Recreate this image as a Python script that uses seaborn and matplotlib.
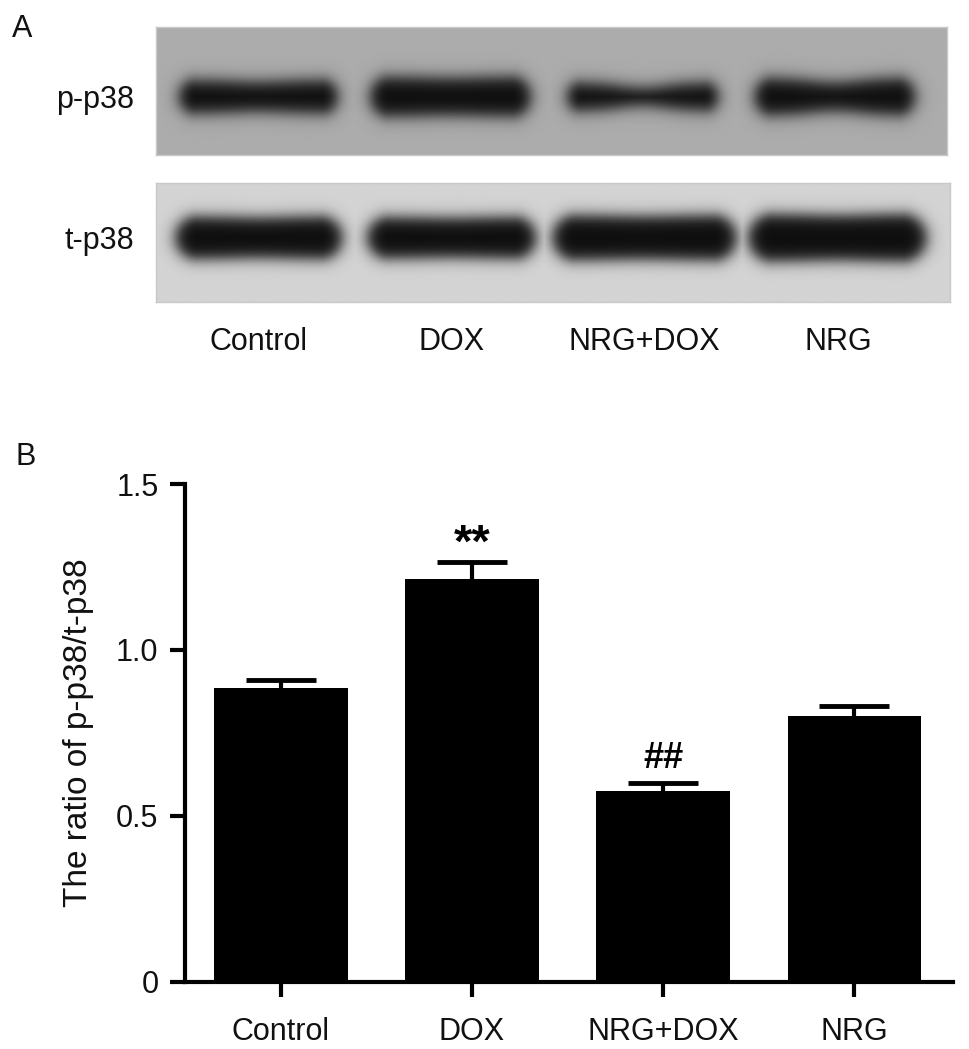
import numpy as np
import pandas as pd
import matplotlib
matplotlib.use("Agg")
import matplotlib.pyplot as plt
import seaborn as sns

groups = ["Control", "DOX", "NRG+DOX", "NRG"]
ratio_mean = [0.885, 1.213, 0.574, 0.800]
ratio_sem = [0.026, 0.051, 0.024, 0.030]
significance = ["", "**", "##", ""]

# western blot rows and band appearance per lane
blot_rows = ["p-p38", "t-p38"]
p38_band_width = [0.82, 0.83, 0.78, 0.83]
p38_band_height = [0.26, 0.31, 0.22, 0.29]
p38_band_waist = [0.10, 0.05, 0.35, 0.22]
t38_band_width = [0.86, 0.87, 0.95, 0.92]
t38_band_height = [0.36, 0.35, 0.38, 0.40]
t38_band_waist = [0.05, 0.04, 0.04, 0.05]

sns.set_style("ticks")
plt.rcParams["font.family"] = ["Liberation Sans", "DejaVu Sans"]
for key in ["text.color", "axes.labelcolor", "xtick.color", "ytick.color", "axes.edgecolor"]:
    plt.rcParams[key] = "#111111"

BLACK = "#000000"
FS = 22


def blot_image(widths, heights, waists, center_y, bg):
    # build a grey-level picture of one blot strip, bands centred on lanes 0..3
    xs = np.linspace(-0.53, 3.58, 600)
    ys = np.linspace(-1, 1, 140)
    X, Y = np.meshgrid(xs, ys)
    px_x, px_y = 192.5, 62.0
    dark = np.zeros_like(X)
    for lane, (w, h, wa) in enumerate(zip(widths, heights, waists)):
        dx = (X - lane) * px_x
        dy = (Y - center_y) * px_y
        hw = w / 2 * px_x
        hh = h * px_y
        hh_eff = hh * (1 - wa * np.exp(-((X - lane) / (w * 0.22)) ** 2))
        seg = np.clip(np.abs(dx) - (hw - hh), 0, None)
        d = np.sqrt(seg ** 2 + dy ** 2) - hh_eff
        dark = np.maximum(dark, 1 / (1 + np.exp(d / 4.5)))
    return bg - (bg - 14) * dark


fig = plt.figure(figsize=(9.69, 10.49), dpi=100)

# ---- panel A: blots
ax_p = fig.add_axes([0.161, 0.8522, 0.8163, 0.1220])
ax_t = fig.add_axes([0.161, 0.7121, 0.8194, 0.1134])

img_p = blot_image(p38_band_width, p38_band_height, p38_band_waist, -0.09, 172)
img_t = blot_image(t38_band_width, t38_band_height, t38_band_waist, 0.08, 212)

for ax, img, label, cy in [(ax_p, img_p, blot_rows[0], -0.09), (ax_t, img_t, blot_rows[1], 0.08)]:
    ax.imshow(img, cmap="gray", vmin=0, vmax=255, aspect="auto",
              extent=[-0.53, 3.58, -1, 1], origin="lower", interpolation="bilinear")
    for s in ax.spines.values():
        s.set_color("#c8c8c8")
        s.set_linewidth(1)
    ax.set_yticks([cy])
    ax.set_yticklabels([label], fontsize=FS)
    ax.tick_params(axis="y", length=0, pad=16)
    ax.set_xticks([])

ax_t.set_xticks(range(len(groups)))
ax_t.set_xticklabels(groups, fontsize=FS)
ax_t.tick_params(axis="x", length=0, pad=18)

# ---- panel B: bar chart
ax = fig.add_axes([0.1909, 0.0639, 0.7926, 0.4747])
df = pd.DataFrame({"group": groups, "ratio": ratio_mean, "sem": ratio_sem})
sns.barplot(data=df, x="group", y="ratio", color=BLACK, saturation=1,
            width=0.7, errorbar=None, linewidth=0, edgecolor=BLACK, ax=ax)
eb = ax.errorbar(range(len(groups)), df["ratio"], yerr=[np.zeros(len(groups)), df["sem"]],
                 fmt="none", ecolor=BLACK, elinewidth=3, capsize=25, capthick=3.5)
# only the upper cap is wanted (mean + SEM)
eb[1][0].set_visible(False)

for i, (m, e, s) in enumerate(zip(ratio_mean, ratio_sem, significance)):
    if s == "**":
        ax.annotate(s, (i, m + e), xytext=(0, 4), textcoords="offset points",
                    ha="center", va="baseline", fontsize=34, fontweight="bold", color=BLACK)
    elif s:
        ax.annotate(s, (i, m + e), xytext=(0, 11), textcoords="offset points",
                    ha="center", va="baseline", fontsize=26, fontweight="bold", color=BLACK)

ax.set_xlim(-0.5, 3.515)
ax.set_ylim(0, 1.5)
ax.set_yticks([0, 0.5, 1.0, 1.5])
ax.set_yticklabels(["0", "0.5", "1.0", "1.5"])
ax.set_xlabel("")
ax.set_ylabel("The ratio of p-p38/t-p38", fontsize=24, labelpad=16)
sns.despine(ax=ax)
for s in ["left", "bottom"]:
    ax.spines[s].set_linewidth(3)
    ax.spines[s].set_color(BLACK)
ax.tick_params(axis="both", labelsize=FS, width=3, length=11, color=BLACK)
ax.tick_params(axis="y", pad=8)
ax.tick_params(axis="x", pad=14)

fig.text(0.0124, 0.9647, "A", fontsize=22, va="baseline")
fig.text(0.0155, 0.5567, "B", fontsize=22, va="baseline")

fig.savefig("out.png", dpi=100)
